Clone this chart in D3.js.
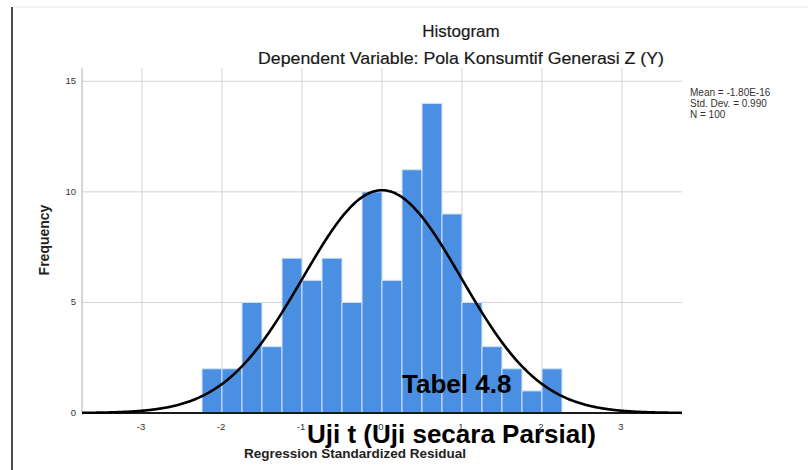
<!DOCTYPE html>
<html>
<head>
<meta charset="utf-8">
<script src="https://cdn.jsdelivr.net/npm/d3@7"></script>
<style>
  html, body { margin: 0; padding: 0; background: #fff; }
  svg { display: block; font-family: "Liberation Sans", Arial, sans-serif; }
</style>
</head>
<body>
<svg id="chart" width="808" height="470"></svg>
<script>
// ---- data ----
const binStarts = [-2.25, -2.0, -1.75, -1.5, -1.25, -1.0, -0.75, -0.5, -0.25, 0.0, 0.25, 0.5, 0.75, 1.0, 1.25, 1.5, 1.75, 2.0];
const frequencies = [2, 2, 5, 3, 7, 6, 7, 5, 10, 6, 11, 14, 9, 5, 3, 2, 1, 2];
const binWidth = 0.25;
const xTicks = [-3, -2, -1, 0, 1, 2, 3];
const yTicks = [0, 5, 10, 15];
const statLines = ["Mean = -1.80E-16", "Std. Dev. = 0.990", "N = 100"];
const meanVal = 0;
const sdVal = 0.990;
const nVal = 100;

(function () {
const svg = d3.select("#chart");
const pLeft = 82, pRight = 682, pTop = 68, pBottom = 413;

const x = d3.scaleLinear().domain([-3.75, 3.75]).range([pLeft, pRight]);
const y = d3.scaleLinear().domain([0, 15.6]).range([pBottom, pTop]);

// page frame
svg.append("line").attr("x1", 12).attr("x2", 808).attr("y1", 7).attr("y2", 7)
  .attr("stroke", "#e6e6e6").attr("stroke-width", 1);
svg.append("line").attr("x1", 12).attr("x2", 12).attr("y1", 7).attr("y2", 470)
  .attr("stroke", "#111").attr("stroke-width", 1.5);

// titles
svg.append("text").attr("x", 461).attr("y", 37).attr("text-anchor", "middle")
  .attr("font-size", 17).attr("fill", "#1a1a1a").attr("stroke", "#1a1a1a").attr("stroke-width", 0.2)
  .text("Histogram");
svg.append("text").attr("x", 461).attr("y", 64).attr("text-anchor", "middle")
  .attr("font-size", 17).attr("fill", "#1a1a1a").attr("stroke", "#1a1a1a").attr("stroke-width", 0.2)
  .attr("textLength", 406).attr("lengthAdjust", "spacingAndGlyphs")
  .text("Dependent Variable: Pola Konsumtif Generasi Z (Y)");

// gridlines
svg.append("g").selectAll("line").data(xTicks).join("line")
  .attr("x1", d => x(d)).attr("x2", d => x(d)).attr("y1", pTop).attr("y2", pBottom)
  .attr("stroke", "#d2d2d2").attr("stroke-width", 1);
svg.append("g").selectAll("line").data(yTicks.filter(d => d > 0)).join("line")
  .attr("x1", pLeft).attr("x2", pRight).attr("y1", d => y(d)).attr("y2", d => y(d))
  .attr("stroke", "#d2d2d2").attr("stroke-width", 1);

// bars
svg.append("g").selectAll("rect").data(binStarts).join("rect")
  .attr("x", d => x(d))
  .attr("width", d => x(d + binWidth) - x(d))
  .attr("y", (d, i) => y(frequencies[i]))
  .attr("height", (d, i) => y(0) - y(frequencies[i]))
  .attr("fill", "#4a8fe2")
  .attr("stroke", "#d4e6f8").attr("stroke-width", 1);

// y axis
svg.append("line").attr("x1", pLeft).attr("x2", pLeft).attr("y1", pTop).attr("y2", pBottom)
  .attr("stroke", "#b0b0b0").attr("stroke-width", 1);
svg.append("g").selectAll("text").data(yTicks).join("text")
  .attr("x", pLeft - 6).attr("y", d => y(d) + 3)
  .attr("text-anchor", "end").attr("font-size", 9.5).attr("fill", "#333")
  .text(d => d);

// x tick labels
svg.append("g").selectAll("text").data(xTicks).join("text")
  .attr("x", d => x(d) - 1).attr("y", 430)
  .attr("text-anchor", "middle").attr("font-size", 9.5).attr("fill", "#333")
  .text(d => d);

// normal curve
const scaleFactor = nVal * binWidth;
const pts = d3.range(-3.75, 3.7501, 0.02).map(v => [v,
  scaleFactor * Math.exp(-0.5 * Math.pow((v - meanVal) / sdVal, 2)) / (sdVal * Math.sqrt(2 * Math.PI))]);
// baseline
svg.append("line").attr("x1", pLeft).attr("x2", pRight).attr("y1", pBottom).attr("y2", pBottom)
  .attr("stroke", "#1a1a1a").attr("stroke-width", 2);
svg.append("path").datum(pts)
  .attr("d", d3.line().x(d => x(d[0])).y(d => y(d[1])).curve(d3.curveBasis))
  .attr("fill", "none").attr("stroke", "#000").attr("stroke-width", 2.6);

// stats legend
svg.append("g").selectAll("text").data(statLines).join("text")
  .attr("x", 690).attr("y", (d, i) => 96 + i * 11)
  .attr("font-size", 10).attr("fill", "#333").text(d => d);

// axis titles
svg.append("text").attr("transform", "translate(49,240) rotate(-90)")
  .attr("text-anchor", "middle").attr("font-size", 14).attr("font-weight", "bold")
  .attr("fill", "#222").text("Frequency");
svg.append("text").attr("x", 355).attr("y", 458).attr("text-anchor", "middle")
  .attr("font-size", 13.5).attr("font-weight", "bold").attr("fill", "#222")
  .text("Regression Standardized Residual");

// overlay captions
svg.append("text").attr("x", 402).attr("y", 393)
  .attr("font-size", 26).attr("font-weight", "bold").attr("fill", "#000").text("Tabel 4.8");
svg.append("text").attr("x", 307).attr("y", 443)
  .attr("font-size", 26).attr("font-weight", "bold").attr("fill", "#000").text("Uji t (Uji secara Parsial)");
})();
</script>
</body>
</html>
